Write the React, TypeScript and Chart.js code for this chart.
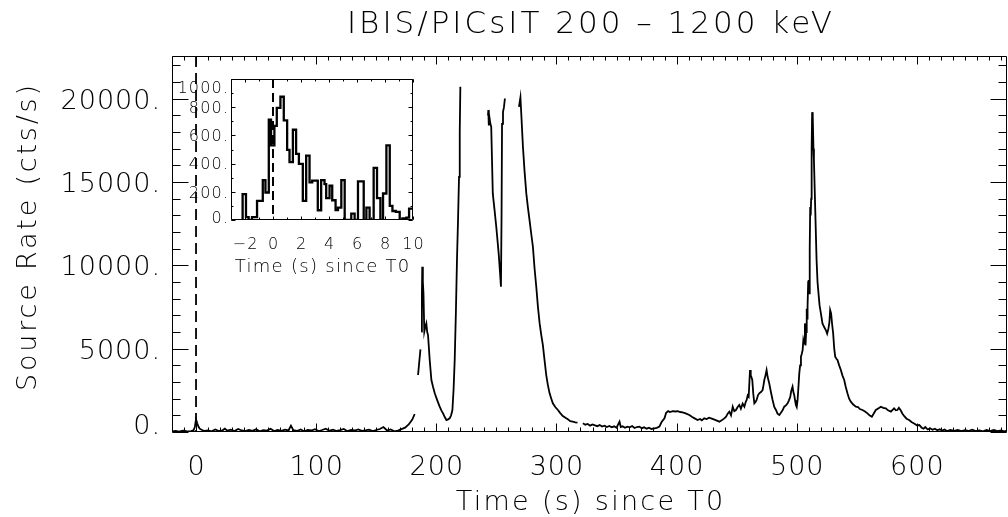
import React, { useEffect, useRef } from "react";
import { Chart, registerables } from "chart.js";

Chart.register(...registerables);

const FONT = "'DejaVu Sans', 'Liberation Sans', sans-serif";
const WEIGHT = 200;

const TITLE = "IBIS/PICsIT 200 \u2013 1200 keV";
const X_TITLE = "Time (s) since T0";
const Y_TITLE = "Source Rate (cts/s)";
const INSET_X_TITLE = "Time (s) since T0";

const X_TICKS = [0, 100, 200, 300, 400, 500, 600];
const Y_TICKS = [0, 5000, 10000, 15000, 20000];
const INSET_X_TICKS = [-2, 0, 2, 4, 6, 8, 10];
const INSET_Y_TICKS = [0, 200, 400, 600, 800, 1000];

// Main light curve, split in segments (gaps in the data between them)
const PRE_T = [
  -20, -17, -14, -11, -8, -5, -2, -1, 0, 1,
  2, 3, 5, 7, 10, 13, 16, 19, 22, 24,
  26, 29, 32, 35, 38, 41, 44, 47, 50, 53,
  56, 59, 62, 65, 68, 71, 74, 77, 79, 81,
  84, 87, 90, 93, 96, 99, 102, 105, 108, 111,
  114, 117, 120, 123, 126, 129, 132, 135, 138, 141,
  144, 147, 150, 153, 156, 159, 162, 165, 168, 171,
  174, 177, 180, 182,
];
const PRE_RATE = [
  40, 60, 20, 80, 50, 30, 120, 300, 760, 520,
  330, 200, 120, 60, 90, 40, 150, 60, 100, 200,
  80, 140, 60, 180, 90, 50, 130, 70, 160, 40,
  110, 80, 190, 60, 120, 70, 140, 90, 380, 110,
  60, 150, 40, 130, 90, 170, 60, 120, 200, 80,
  140, 60, 110, 180, 50, 130, 90, 160, 70, 100,
  140, 60, 120, 180, 300, 90, 150, 40, 80, 170,
  260, 450, 750, 1080,
];

const RISE_T = [184.8, 185.8, 186.8];
const RISE_RATE = [3420, 4200, 4960];

const PEAK1_T = [
  187.6, 188, 188.3, 188.8, 189.3, 190, 190.8, 191.7, 192.4, 193.1,
  194.5, 195.9, 197.3, 198.7, 200.8, 202.8, 204.2, 205.6, 207, 208.4,
  209.8, 211.1, 212.3, 213.4, 214.4, 215.3, 216.3, 217.2, 218.1, 218.9,
  219.5, 220,
];
const PEAK1_RATE = [
  6020, 8200, 9920, 9000, 8320, 6020, 6300, 6520, 6000, 5820,
  4320, 3120, 2700, 2320, 1900, 1520, 1300, 1120, 900, 720,
  760, 820, 1000, 1320, 2600, 4320, 7200, 10320, 12800, 15320,
  18000, 20720,
];

const PEAK2_T = [
  243, 243.3, 243.7, 244.2, 245, 245.7, 247, 248.5, 249.9, 251.9,
  253, 253.8, 254.3, 254.7, 255.5, 256.3, 257.1,
];
const PEAK2_RATE = [
  19000, 19320, 18400, 18900, 18500, 18320, 14320, 13300, 12320, 10720,
  9600, 8720, 13000, 18500, 19200, 19500, 20020,
];

const PEAK3_T = [
  268.8, 270, 270.7, 272.1, 273.5, 274.9, 276.2, 277.6, 279, 280.4,
  281.8, 283.2, 284.6, 286, 287.4, 288.7, 290.1, 291.5, 292.9, 294.3,
  295.7, 297, 299, 301.2, 303, 305.3, 307.5, 309.5, 311.5, 313.6,
  315.7, 317.5,
];
const PEAK3_RATE = [
  19520, 20080, 19120, 17120, 15600, 14320, 13500, 12720, 11900, 11120,
  9800, 8720, 7500, 6520, 5800, 5220, 4300, 3420, 2800, 2320,
  2000, 1720, 1500, 1320, 1150, 960, 850, 760, 650, 620,
  580, 560,
];

const TAIL_T = [
  322, 324, 326, 328, 330, 332, 334, 336, 338, 340,
  342, 344, 346, 348, 350, 352.5, 353.5, 355, 357, 359,
  361, 363, 365, 367, 369, 371, 373, 375, 377, 379,
  381.5, 383.5, 385.7, 387.5, 389.9, 391.3, 393, 394.5, 396.8, 399,
  401, 403, 405, 407.5, 410.6, 413, 415, 417.5, 419.5, 421,
  423, 425, 427, 428.7, 431, 433, 435.6, 437.5, 439.5, 441.2,
  442.5, 443.9, 445.3, 446.7, 448, 449.4, 450.8, 452.2, 453.5, 455,
  456.4, 457.5, 458.3, 459.2, 460, 460.6, 461.1, 461.7, 462.2, 463,
  463.8, 464.7, 465.7, 466.6, 467.7, 468.8, 470.2, 471.6, 472.3, 473,
  474, 474.9, 475.8, 477.1, 478.5, 479.9, 481.3, 482.7, 484, 485.5,
  486.8, 488.2, 489.6, 491, 492.4, 493.5, 494.6, 495.5, 496.5, 497.2,
  497.9, 498.6, 499.3, 500, 500.7, 501.4, 502.1, 502.8, 503.5, 504.2,
  504.9, 505.5, 506.2, 506.8, 507.3, 507.8, 508.3, 508.7, 509, 509.5,
  509.9, 510.4, 510.8, 511.2, 511.6, 512, 512.4, 512.8, 513.1, 513.5,
  513.9, 514.3, 515.4, 516.5, 517.3, 518.1, 519, 520.1, 521.4, 522.8,
  524.2, 525.3, 526.4, 527.2, 527.8, 528.6, 529.4, 530.3, 531.2, 532,
  533, 533.9, 535.3, 536.7, 538, 539.5, 540.8, 542.2, 543.6, 545,
  547, 549.2, 551, 552.5, 554.7, 556.5, 558.9, 560.5, 562.5, 564,
  565.8, 567.5, 570, 572, 574.1, 576, 578.3, 580, 581, 582.5,
  583.8, 585, 586.5, 588, 589.5, 591.4, 593.5, 595.5, 598, 600,
  602, 604, 605.5, 607, 609, 611, 613, 615, 617, 619,
  621, 623, 625, 628, 631, 634, 637, 640, 643, 646,
  649, 652, 655, 658, 661, 664, 667, 670, 673, 675,
];
const TAIL_RATE = [
  520, 440, 480, 380, 450, 400, 350, 420, 330, 380,
  300, 360, 280, 340, 260, 620, 300, 340, 250, 320,
  280, 360, 240, 300, 320, 230, 280, 200, 260, 180,
  220, 250, 320, 600, 820, 1150, 1250, 1200, 1250, 1230,
  1250, 1200, 1180, 1120, 1020, 900, 820, 720, 780, 700,
  820, 780, 860, 820, 760, 700, 620, 700, 800, 920,
  1100, 1220, 1000, 1520, 1250, 1320, 1500, 1620, 1400, 1700,
  1520, 1800, 1920, 2200, 2120, 3000, 3720, 3400, 3320, 3120,
  2300, 1720, 1800, 1920, 2200, 2320, 2400, 2520, 2800, 3120,
  3400, 3720, 3300, 2920, 2400, 1920, 1500, 1320, 1100, 1020,
  1150, 1300, 1520, 1600, 1720, 1900, 2120, 2500, 2720, 2400,
  2220, 1900, 1620, 1500, 1920, 2700, 3520, 4000, 4520, 4700,
  4920, 5520, 5300, 6520, 5200, 6000, 7400, 6800, 7520, 9000,
  9120, 8320, 11000, 13500, 13000, 14000, 17000, 19200, 18600, 19000,
  17000, 16320, 13320, 10320, 9000, 8320, 7600, 7120, 6520, 6300,
  6120, 5900, 6220, 6600, 7320, 7120, 6500, 5920, 5000, 4520,
  4400, 4320, 4000, 3720, 3400, 3120, 2700, 2320, 2000, 1820,
  1650, 1520, 1500, 1380, 1320, 1250, 1120, 1000, 920, 1100,
  1320, 1400, 1520, 1450, 1420, 1300, 1220, 1350, 1420, 1300,
  1320, 1450, 1300, 1100, 950, 800, 720, 600, 500, 400,
  420, 260, 200, 300, 150, 220, 130, 200, 100, 160,
  80, 150, 60, 120, 70, 130, 50, 110, 60, 140,
  50, 100, 40, 120, 60, 130, 50, 90, 40, 80,
];

const SEGMENTS: [number[], number[]][] = [
  [PRE_T, PRE_RATE],
  [RISE_T, RISE_RATE],
  [PEAK1_T, PEAK1_RATE],
  [PEAK2_T, PEAK2_RATE],
  [PEAK3_T, PEAK3_RATE],
  [TAIL_T, TAIL_RATE],
];

// Inset: histogram step edges (s) and rates (cts/s)
const INSET_EDGES = [
  -2.17, -1.93, -1.74, -1.5, -1.14, -0.73, -0.54, -0.3, -0.14, 0.1,
  0.27, 0.53, 0.77, 1.01, 1.18, 1.42, 1.65, 1.85, 2.13, 2.37,
  2.61, 2.8, 3.2, 3.44, 3.68, 3.8, 4.04, 4.23, 4.47, 4.64,
  4.88, 5.12, 5.59, 5.83, 6.07, 6.48, 6.67, 6.9, 7.19, 7.43,
  7.67, 7.86, 8.1, 8.34, 8.53, 8.77, 9.05, 9.24, 9.53, 9.72,
  10,
];
const INSET_RATE = [
  183, 20, 0, 20, 136, 283, 195, 712, 529, 667,
  795, 874, 707, 498, 410, 640, 469, 398, 136, 457,
  267, 279, 69, 283, 255, 155, 243, 140, 71, 88,
  283, 0, 45, 0, 274, 0, 88, 0, 369, 155,
  0, 188, 529, 100, 64, 57, 0, 12, 17, 81,
];

function buildMainData() {
  const pts: { x: number; y: number | null }[] = [];
  SEGMENTS.forEach(([ts, rs], si) => {
    if (si > 0) {
      const prevT = SEGMENTS[si - 1][0];
      pts.push({ x: (prevT[prevT.length - 1] + ts[0]) / 2, y: null });
    }
    ts.forEach((t, i) => pts.push({ x: t, y: rs[i] }));
  });
  return pts;
}

function buildInsetData() {
  const pts: { x: number; y: number }[] = [{ x: INSET_EDGES[0], y: 0 }];
  INSET_RATE.forEach((v, i) => pts.push({ x: INSET_EDGES[i], y: v }));
  pts.push({ x: INSET_EDGES[INSET_EDGES.length - 1], y: INSET_RATE[INSET_RATE.length - 1] });
  return pts;
}

function range(a: number, b: number, s: number) {
  const out: number[] = [];
  for (let v = a; v <= b + 1e-9; v += s) out.push(Math.round(v * 1000) / 1000);
  return out;
}

const fmtNum = (v: number) => (v < 0 ? "\u2212" + Math.abs(v) : String(v));

function text(
  ctx: any, s: string, x: number, y: number, size: number,
  align: "left" | "right" | "center", spacing: number,
) {
  ctx.font = `${WEIGHT} ${size}px ${FONT}`;
  ctx.textAlign = align;
  ctx.textBaseline = "alphabetic";
  try {
    ctx.letterSpacing = `${spacing}px`;
  } catch (e) {
    /* ignore */
  }
  let dx = 0;
  if (align === "center") dx = spacing / 2;
  if (align === "right") dx = spacing;
  ctx.fillText(s, x + dx, y);
}

function drawFrameAndTicks(
  chart: any,
  xMinor: number[], xMajor: number[], xMinLen: number, xMajLen: number,
  yMinor: number[], yMajor: number[], yMinLen: number, yMajLen: number,
) {
  const { ctx, chartArea: a, scales } = chart;
  const xs = scales.x;
  const ys = scales.y;
  ctx.save();
  ctx.strokeStyle = "#000";
  ctx.lineWidth = 1;
  ctx.setLineDash([]);
  ctx.beginPath();
  const L = Math.round(a.left) + 0.5;
  const R = Math.round(a.right) - 0.5;
  const T = Math.round(a.top) + 0.5;
  const B = Math.round(a.bottom) - 0.5;
  ctx.rect(L, T, R - L, B - T);
  const xt = (vals: number[], len: number) => {
    vals.forEach((v) => {
      const px = Math.round(xs.getPixelForValue(v)) + 0.5;
      ctx.moveTo(px, B);
      ctx.lineTo(px, B - len);
      ctx.moveTo(px, T);
      ctx.lineTo(px, T + len);
    });
  };
  const yt = (vals: number[], len: number) => {
    vals.forEach((v) => {
      const py = Math.round(ys.getPixelForValue(v)) + 0.5;
      ctx.moveTo(L, py);
      ctx.lineTo(L + len, py);
      ctx.moveTo(R, py);
      ctx.lineTo(R - len, py);
    });
  };
  xt(xMinor, xMinLen);
  xt(xMajor, xMajLen);
  yt(yMinor, yMinLen);
  yt(yMajor, yMajLen);
  ctx.stroke();
  ctx.restore();
}

function drawTickLabels(
  chart: any,
  xVals: number[], xBaseline: number, yVals: number[], yRight: number,
  size: number, spacing: number, yMinCenter: number, yMaxCenter: number,
) {
  const { ctx, scales } = chart;
  const cap = size * 0.729;
  ctx.save();
  ctx.fillStyle = "#000";
  xVals.forEach((v) => {
    text(ctx, fmtNum(v), scales.x.getPixelForValue(v), xBaseline, size, "center", spacing);
  });
  yVals.forEach((v) => {
    let c = scales.y.getPixelForValue(v);
    c = Math.min(Math.max(c, yMinCenter), yMaxCenter);
    text(ctx, `${v}.`, yRight, c + cap / 2, size, "right", spacing);
  });
  ctx.restore();
}

function drawZeroLine(chart: any, dash: number[], width: number) {
  const { ctx, chartArea: a, scales } = chart;
  const x0 = scales.x.getPixelForValue(0);
  ctx.save();
  ctx.strokeStyle = "#000";
  ctx.lineWidth = width;
  ctx.setLineDash(dash);
  ctx.beginPath();
  ctx.moveTo(x0, a.top);
  ctx.lineTo(x0, a.bottom);
  ctx.stroke();
  ctx.restore();
}

const mainDecor = {
  id: "mainDecor",
  afterDatasetsDraw(chart: any) {
    drawZeroLine(chart, [11, 6], 1.8);
    drawFrameAndTicks(
      chart,
      range(-20, 670, 10), X_TICKS, 4, 8,
      range(0, 22000, 1000), Y_TICKS, 8, 16,
    );
  },
  afterDraw(chart: any) {
    const { ctx, chartArea: a } = chart;
    const cx = (a.left + a.right) / 2;
    drawTickLabels(chart, X_TICKS, 475, Y_TICKS, 160, 27, 1, 0, 424);
    ctx.save();
    ctx.fillStyle = "#000";
    text(ctx, TITLE, cx, 33, 31, "center", 3);
    text(ctx, X_TITLE, cx, 510, 27, "center", 2.3);
    ctx.translate(36, 238);
    ctx.rotate(-Math.PI / 2);
    text(ctx, Y_TITLE, 0, 0, 27, "center", 2.8);
    ctx.restore();
  },
};

const insetDecor = {
  id: "insetDecor",
  afterDatasetsDraw(chart: any) {
    drawZeroLine(chart, [9, 5], 2);
    drawFrameAndTicks(
      chart,
      range(-3, 10, 1), INSET_X_TICKS, 2, 3,
      range(0, 1000, 100), INSET_Y_TICKS, 2, 4,
    );
  },
  afterDraw(chart: any) {
    const { ctx, chartArea: a } = chart;
    drawTickLabels(chart, INSET_X_TICKS, 194.5, INSET_Y_TICKS, 78, 16, 1.2, 33, 163);
    ctx.save();
    ctx.fillStyle = "#000";
    text(ctx, INSET_X_TITLE, (a.left + a.right) / 2, 218, 18, "center", 1.3);
    ctx.restore();
  },
};

function axisOpts(min: number, max: number, ticks: number[], fit: (s: any) => void) {
  return {
    type: "linear",
    min,
    max,
    grid: { display: false, drawTicks: false },
    border: { display: false },
    afterBuildTicks: (s: any) => {
      s.ticks = ticks.map((v) => ({ value: v }));
    },
    afterFit: fit,
    ticks: { display: false },
  };
}

export default function App() {
  const mainRef = useRef<HTMLCanvasElement>(null);
  const insetRef = useRef<HTMLCanvasElement>(null);

  useEffect(() => {
    const main = new Chart(mainRef.current as HTMLCanvasElement, {
      type: "line",
      data: {
        datasets: [
          {
            data: buildMainData() as any,
            borderColor: "#000",
            borderWidth: 1.8,
            pointRadius: 0,
            spanGaps: false,
            tension: 0,
          },
        ],
      },
      options: {
        animation: false,
        responsive: false,
        devicePixelRatio: 1,
        layout: { padding: { top: 56, right: 1, left: 0, bottom: 0 } },
        plugins: { legend: { display: false }, tooltip: { enabled: false }, title: { display: false } },
        scales: {
          x: axisOpts(-20, 675, X_TICKS, (s: any) => { s.height = 85; }),
          y: axisOpts(0, 22570, Y_TICKS, (s: any) => { s.width = 172; }),
        },
      } as any,
      plugins: [mainDecor],
    });

    const inset = new Chart(insetRef.current as HTMLCanvasElement, {
      type: "line",
      data: {
        datasets: [
          {
            data: buildInsetData() as any,
            borderColor: "#000",
            borderWidth: 2.3,
            pointRadius: 0,
            stepped: true,
            tension: 0,
          },
        ],
      },
      options: {
        animation: false,
        responsive: false,
        devicePixelRatio: 1,
        layout: { padding: { top: 25, right: 27, left: 0, bottom: 0 } },
        plugins: { legend: { display: false }, tooltip: { enabled: false }, title: { display: false } },
        scales: {
          x: axisOpts(-3, 10, INSET_X_TICKS, (s: any) => { s.height = 64; }),
          y: axisOpts(0, 1000, INSET_Y_TICKS, (s: any) => { s.width = 81; }),
        },
      } as any,
      plugins: [insetDecor],
    });

    return () => {
      main.destroy();
      inset.destroy();
    };
  }, []);

  return (
    <div style={{ position: "absolute", left: 0, top: 0, width: 1008, height: 517, background: "#fff", overflow: "hidden" }}>
      <canvas ref={mainRef} width={1008} height={517} style={{ position: "absolute", left: 0, top: 0 }} />
      <canvas ref={insetRef} width={290} height={230} style={{ position: "absolute", left: 150, top: 54 }} />
    </div>
  );
}
